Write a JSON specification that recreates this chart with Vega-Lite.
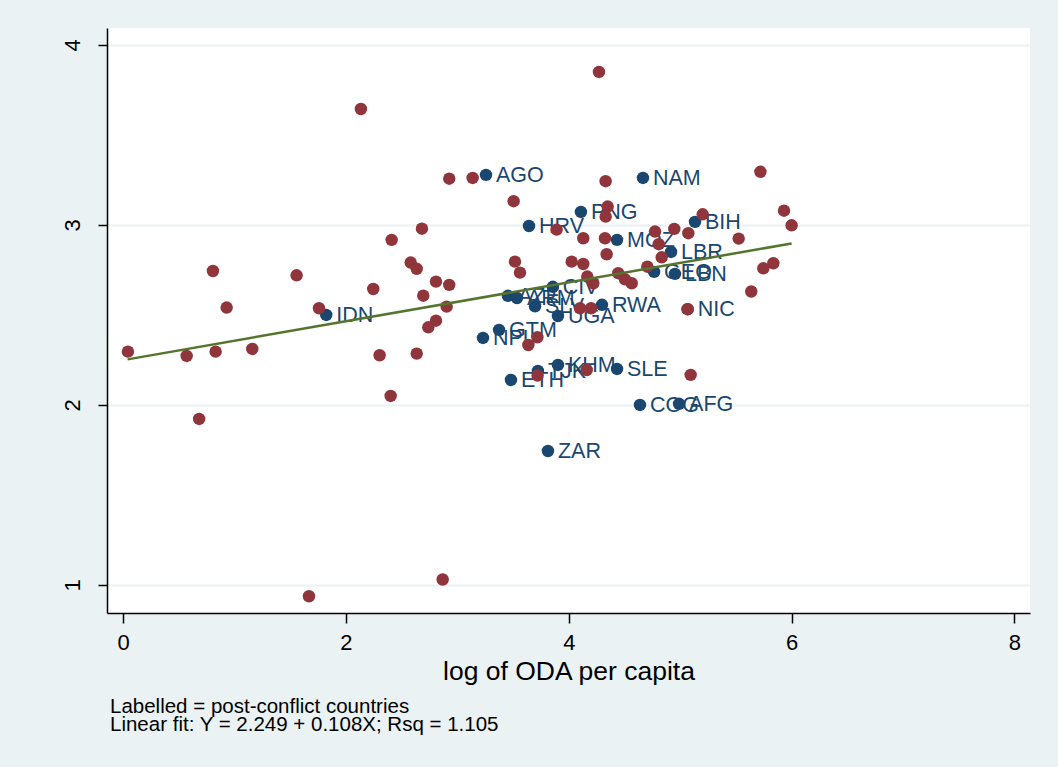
{
  "$schema": "https://vega.github.io/schema/vega-lite/v6.json",
  "width": 923,
  "height": 585,
  "autosize": {"type": "none"},
  "padding": {"left": 107, "top": 28, "right": 28, "bottom": 154},
  "background": "#EAF2F3",
  "config": {
    "view": {"fill": "white", "stroke": null},
    "font": "Liberation Sans"
  },
  "title": {
    "text": ["Labelled = post-conflict countries", "Linear fit: Y = 2.249 + 0.108X; Rsq = 1.105"],
    "orient": "bottom",
    "anchor": "start",
    "frame": "group",
    "fontSize": 20.5,
    "fontWeight": "normal",
    "font": "Liberation Sans",
    "color": "black",
    "lineHeight": 18,
    "offset": 12,
    "dx": 3
  },
  "datasets": {
    "other": [
      {"x": 2.134, "y": 3.644}, {"x": 2.927, "y": 3.257}, {"x": 3.137, "y": 3.261}, {"x": 2.682, "y": 2.979},
      {"x": 2.41, "y": 2.917}, {"x": 2.581, "y": 2.791}, {"x": 2.635, "y": 2.756}, {"x": 0.806, "y": 2.744},
      {"x": 1.557, "y": 2.72}, {"x": 2.808, "y": 2.685}, {"x": 2.927, "y": 2.667}, {"x": 2.245, "y": 2.644},
      {"x": 2.694, "y": 2.607}, {"x": 0.929, "y": 2.541}, {"x": 1.758, "y": 2.537}, {"x": 2.904, "y": 2.546},
      {"x": 2.808, "y": 2.468}, {"x": 2.739, "y": 2.431}, {"x": 0.043, "y": 2.296}, {"x": 0.57, "y": 2.272},
      {"x": 0.83, "y": 2.296}, {"x": 1.159, "y": 2.311}, {"x": 2.302, "y": 2.276}, {"x": 2.635, "y": 2.285},
      {"x": 2.401, "y": 2.05}, {"x": 0.682, "y": 1.922}, {"x": 2.868, "y": 1.03}, {"x": 1.668, "y": 0.937},
      {"x": 3.72, "y": 2.163}, {"x": 4.271, "y": 3.85}, {"x": 3.505, "y": 3.132}, {"x": 4.331, "y": 3.243},
      {"x": 4.349, "y": 3.102}, {"x": 4.331, "y": 3.046}, {"x": 3.891, "y": 2.974}, {"x": 4.13, "y": 2.926},
      {"x": 4.325, "y": 2.926}, {"x": 4.34, "y": 2.837}, {"x": 4.774, "y": 2.963}, {"x": 4.947, "y": 2.978},
      {"x": 5.073, "y": 2.954}, {"x": 5.202, "y": 3.059}, {"x": 5.525, "y": 2.924}, {"x": 4.807, "y": 2.893},
      {"x": 4.834, "y": 2.82}, {"x": 5.72, "y": 3.295}, {"x": 3.517, "y": 2.796}, {"x": 5.932, "y": 3.079},
      {"x": 6.0, "y": 2.998}, {"x": 5.746, "y": 2.759}, {"x": 5.836, "y": 2.787}, {"x": 5.638, "y": 2.63},
      {"x": 4.026, "y": 2.796}, {"x": 4.13, "y": 2.783}, {"x": 4.166, "y": 2.713}, {"x": 4.22, "y": 2.676},
      {"x": 4.444, "y": 2.732}, {"x": 4.505, "y": 2.698}, {"x": 4.565, "y": 2.676}, {"x": 4.705, "y": 2.768},
      {"x": 4.101, "y": 2.537}, {"x": 4.2, "y": 2.537}, {"x": 5.067, "y": 2.532}, {"x": 3.562, "y": 2.735},
      {"x": 3.718, "y": 2.376}, {"x": 3.637, "y": 2.333}, {"x": 4.161, "y": 2.194}, {"x": 5.094, "y": 2.167}
    ],
    "pc": [
      {"x": 3.257, "y": 3.278, "iso": "AGO"}, {"x": 4.666, "y": 3.261, "iso": "NAM"},
      {"x": 4.109, "y": 3.072, "iso": "PNG"}, {"x": 3.643, "y": 2.994, "iso": "HRV"},
      {"x": 5.133, "y": 3.017, "iso": "BIH"}, {"x": 4.433, "y": 2.917, "iso": "MOZ"},
      {"x": 4.918, "y": 2.85, "iso": "LBR"}, {"x": 4.766, "y": 2.739, "iso": "GEO"},
      {"x": 4.953, "y": 2.728, "iso": "LBN"}, {"x": 3.857, "y": 2.656, "iso": "CIV"},
      {"x": 3.454, "y": 2.606, "iso": "AZE"}, {"x": 3.535, "y": 2.594, "iso": "ARM"},
      {"x": 3.697, "y": 2.548, "iso": "SLV"}, {"x": 3.903, "y": 2.494, "iso": "UGA"},
      {"x": 4.298, "y": 2.556, "iso": "RWA"}, {"x": 5.067, "y": 2.532, "iso": "NIC"},
      {"x": 1.823, "y": 2.5, "iso": "IDN"}, {"x": 3.374, "y": 2.417, "iso": "GTM"},
      {"x": 3.23, "y": 2.372, "iso": "NPL"}, {"x": 3.903, "y": 2.222, "iso": "KHM"},
      {"x": 4.433, "y": 2.2, "iso": "SLE"}, {"x": 3.481, "y": 2.139, "iso": "ETH"},
      {"x": 3.723, "y": 2.189, "iso": "TJK"}, {"x": 4.639, "y": 2.0, "iso": "COG"},
      {"x": 4.99, "y": 2.006, "iso": "AFG"}, {"x": 3.813, "y": 1.744, "iso": "ZAR"}
    ],
    "fit": [
      {"x": 0.04, "y": 2.253}, {"x": 6.0, "y": 2.897}
    ]
  },
  "encoding": {
    "x": {
      "field": "x", "type": "quantitative",
      "scale": {"domain": [-0.145, 8.14], "nice": false, "zero": false},
      "axis": {
        "title": "log of ODA per capita", "values": [0, 2, 4, 6, 8], "grid": false,
        "domainColor": "black", "domainWidth": 1.5, "tickColor": "black", "tickWidth": 1.5, "tickSize": 10,
        "labelFontSize": 22, "labelColor": "black", "labelPadding": 9, "labelFont": "Liberation Sans",
        "titleFontSize": 26.5, "titleFontWeight": "normal", "titleColor": "black", "titlePadding": 5, "titleFont": "Liberation Sans"
      }
    },
    "y": {
      "field": "y", "type": "quantitative",
      "scale": {"domain": [0.844, 4.094], "nice": false, "zero": false},
      "axis": {
        "title": null, "values": [1, 2, 3, 4], "grid": true, "gridColor": "#EAF2F3", "gridWidth": 2,
        "domainColor": "black", "domainWidth": 1.5, "tickColor": "black", "tickWidth": 1.5, "tickSize": 9,
        "labelFontSize": 22, "labelColor": "black", "labelAngle": -90, "labelAlign": "center", "labelBaseline": "bottom",
        "labelPadding": 14, "labelFont": "Liberation Sans"
      }
    }
  },
  "layer": [
    {
      "mark": {"type": "rule", "color": "#0000FF", "strokeWidth": 2.5, "strokeDash": [24, 4, 2, 4]},
      "encoding": {"x": {"datum": 3.688}, "y": null}
    },
    {
      "mark": {"type": "rule", "color": "#0000FF", "strokeWidth": 2.5, "strokeDash": [24, 4, 2, 4]},
      "encoding": {"y": {"datum": 2.65}, "x": null}
    },
    {
      "data": {"name": "pc"},
      "mark": {"type": "circle", "color": "#1A476F", "size": 155, "opacity": 1}
    },
    {
      "data": {"name": "pc"},
      "mark": {"type": "text", "color": "#1A476F", "align": "left", "baseline": "middle", "dx": 10, "dy": 1, "fontSize": 21.5, "font": "Liberation Sans"},
      "encoding": {"text": {"field": "iso"}}
    },
    {
      "data": {"name": "other"},
      "mark": {"type": "circle", "color": "#90353B", "size": 155, "opacity": 1}
    },
    {
      "data": {"name": "fit"},
      "mark": {"type": "line", "color": "#55752F", "strokeWidth": 2.5},
      "encoding": {}
    }
  ]
}
